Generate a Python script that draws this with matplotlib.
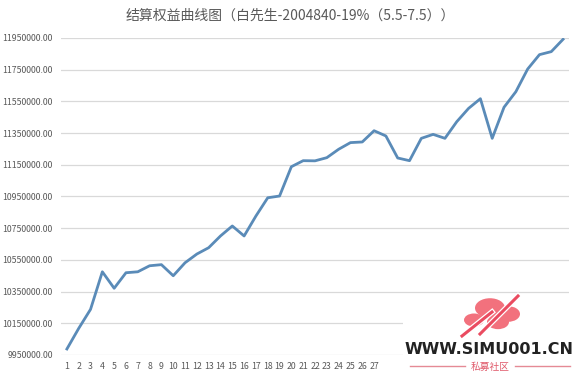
import matplotlib
matplotlib.use("Agg")
import matplotlib.pyplot as plt
from matplotlib.patches import Rectangle, Circle, FancyBboxPatch
from matplotlib.lines import Line2D
from matplotlib.ticker import FuncFormatter

plt.rcParams['font.family'] = ['Noto Sans CJK SC', 'DejaVu Sans']

title = "结算权益曲线图（白先生-2004840-19%（5.5-7.5））"
periods = list(range(1, 44))
equity = [9988000, 10118000, 10238000, 10475000, 10371000, 10469000, 10475000,
          10513000, 10520000, 10450000, 10532000, 10587000, 10627000, 10701000,
          10764000, 10701000, 10827000, 10942000, 10953000, 11138000, 11176000,
          11175000, 11195000, 11248000, 11290000, 11294000, 11365000, 11332000,
          11193000, 11176000, 11317000, 11342000, 11317000, 11422000, 11506000,
          11567000, 11317000, 11513000, 11611000, 11754000, 11845000, 11864000,
          11942000]
# labels after 27 are hidden behind the watermark in the reference
xlabels = [str(p) if p <= 27 else "" for p in periods]
yticks = [9950000, 10150000, 10350000, 10550000, 10750000, 10950000,
          11150000, 11350000, 11550000, 11750000, 11950000]

W, H = 580, 378
fig = plt.figure(figsize=(W / 100, H / 100), dpi=100)
ax = fig.add_axes([61 / W, (H - 355) / H, (569 - 61) / W, (355 - 38) / H])

ax.plot(periods, equity, color='#5a8bb8', linewidth=2.0, solid_joinstyle='round', zorder=3)
ax.set_xlim(0.5, len(periods) + 0.5)
ax.set_ylim(yticks[0], yticks[-1])
ax.set_yticks(yticks)
ax.yaxis.set_major_formatter(FuncFormatter(lambda v, p: f"{v:.2f}"))
ax.set_xticks(periods)
ax.set_xticklabels(xlabels)
ax.grid(axis='y', color='#d9d9d9', linewidth=0.9, zorder=0)
for s in ax.spines.values():
    s.set_visible(False)
ax.tick_params(axis='both', length=0, labelsize=6.3, colors='#595959')
ax.tick_params(axis='y', pad=6)
ax.tick_params(axis='x', pad=5)

fig.text(290 / W, 1 - 16 / H, title, ha='center', va='center', fontsize=10, color='#595959')

# watermark overlay (white box with logo)
fig.patches.append(Rectangle((403 / W, 0), 1 - 403 / W, (H - 300) / H,
                             transform=fig.transFigure, facecolor='white', edgecolor='none', zorder=10))
# cloud
cloud = '#f2717d'
for (cx, cy, r) in [(474, 320, 10), (490, 308, 15), (508, 314, 12), (498, 322, 11)]:
    fig.patches.append(Circle((cx / W, 1 - cy / H), r / W, transform=fig.transFigure,
                              facecolor=cloud, edgecolor='none', zorder=11))
fig.lines.append(Line2D([462 / W, 492 / W], [1 - 336 / H, 1 - 312 / H], transform=fig.transFigure,
                        color='white', linewidth=4, zorder=12))
fig.lines.append(Line2D([462 / W, 492 / W], [1 - 336 / H, 1 - 312 / H], transform=fig.transFigure,
                        color='#ea4b60', linewidth=2.2, zorder=12.5))
fig.lines.append(Line2D([480 / W, 518 / W], [1 - 334 / H, 1 - 296 / H], transform=fig.transFigure,
                        color='white', linewidth=4, zorder=12))
fig.lines.append(Line2D([480 / W, 518 / W], [1 - 334 / H, 1 - 296 / H], transform=fig.transFigure,
                        color='#ea4b60', linewidth=2.2, zorder=12.5))
fig.text(489 / W, 1 - 349 / H, "WWW.SIMU001.CN", ha='center', va='center', fontsize=11.5,
         fontweight='bold', color='#222222', family=['DejaVu Sans'], zorder=13)
fig.text(490 / W, 1 - 367 / H, "私募社区", ha='center', va='center', fontsize=7,
         color='#e05a6b', zorder=13)
fig.lines.append(Line2D([410 / W, 465 / W], [1 - 366 / H] * 2, transform=fig.transFigure,
                        color='#e58a95', linewidth=1, zorder=12))
fig.lines.append(Line2D([515 / W, 570 / W], [1 - 366 / H] * 2, transform=fig.transFigure,
                        color='#e58a95', linewidth=1, zorder=12))

fig.savefig("out.png", dpi=100, facecolor='white')
